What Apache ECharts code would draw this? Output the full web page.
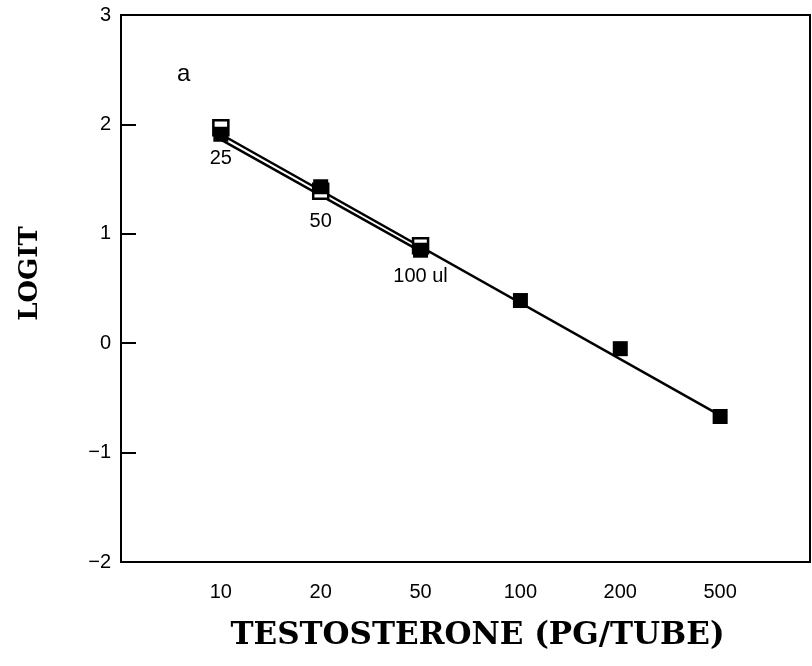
<!DOCTYPE html>
<html>
<head>
<meta charset="utf-8">
<script src="https://cdn.jsdelivr.net/npm/echarts@6/dist/echarts.min.js"></script>
<style>
html,body{margin:0;padding:0;background:#fff;}
#chart{width:812px;height:666px;}
</style>
</head>
<body>
<div id="chart"></div>
<script>
// Tick labels of the x axis (equally spaced positions 0..5)
const xLabels = ['10', '20', '50', '100', '200', '500'];
const xPositions = [0, 1, 2, 3, 4, 5];
// Standard curve (filled squares)
const standardLogit = [1.91, 1.43, 0.85, 0.39, -0.05, -0.67];
// Sample dilutions (open squares) at positions 0..2
const samplePositions = [0, 1, 2];
const sampleLogit = [1.97, 1.39, 0.89];
const sampleLabels = ['25', '50', '100 ul'];
// Fitted straight lines (endpoints)
const standardLineX = [0, 5];
const standardLineY = [1.91, -0.66];
const sampleLineX = [0, 2];
const sampleLineY = [1.86, 0.84];

const zip = (xs, ys) => xs.map((x, i) => [x, ys[i]]);

const chart = echarts.init(document.getElementById('chart'));
chart.setOption({
  backgroundColor: '#fff',
  animation: false,
  grid: {left: 121, right: 2, top: 15, bottom: 104, show: true, borderColor: '#000', borderWidth: 2, backgroundColor: 'transparent'},
  xAxis: {
    type: 'value', min: -1, max: 5.9,
    name: 'TESTOSTERONE (PG/TUBE)', nameLocation: 'middle', nameGap: 58,
    nameTextStyle: {fontFamily: 'DejaVu Serif', fontWeight: 'bold', fontSize: 31, color: '#000', padding: [0, 0, 0, 24]},
    axisLine: {show: true, onZero: false, lineStyle: {color: '#000', width: 2}},
    axisTick: {show: false},
    splitLine: {show: false},
    axisLabel: {
      customValues: xPositions,
      formatter: v => xLabels[Math.round(v)],
      margin: 20, fontFamily: 'Liberation Sans', fontSize: 20, color: '#000'
    }
  },
  yAxis: {
    type: 'value', min: -2, max: 3, interval: 1,
    name: 'LOGIT', nameLocation: 'middle', nameGap: 78, nameRotate: 90,
    nameTextStyle: {fontFamily: 'DejaVu Serif', fontWeight: 'bold', fontSize: 26, color: '#000', padding: [0, 0, 0, 30]},
    axisLine: {show: true, onZero: false, lineStyle: {color: '#000', width: 2}},
    axisTick: {show: true, inside: true, length: 15, lineStyle: {color: '#000', width: 2}},
    splitLine: {show: false},
    axisLabel: {
      formatter: v => String(v).replace('-', '\u2212'),
      margin: 10, fontFamily: 'Liberation Sans', fontSize: 20, color: '#000'
    }
  },
  graphic: [{
    type: 'text', left: 177, top: 62,
    style: {text: 'a', fontFamily: 'Liberation Sans', fontSize: 24, fill: '#000'}
  }],
  series: [
    {
      type: 'line', data: zip(standardLineX, standardLineY), symbol: 'none',
      lineStyle: {color: '#000', width: 2.5}, z: 2
    },
    {
      type: 'line', data: zip(sampleLineX, sampleLineY), symbol: 'none',
      lineStyle: {color: '#000', width: 2.5}, z: 2
    },
    {
      type: 'scatter', data: zip(samplePositions, sampleLogit), symbol: 'rect', symbolSize: 15,
      itemStyle: {color: '#fff', borderColor: '#000', borderWidth: 2.5, opacity: 1},
      label: {
        show: true, position: 'bottom', distance: 12,
        formatter: p => sampleLabels[p.dataIndex],
        fontFamily: 'Liberation Sans', fontSize: 20, color: '#000', opacity: 1
      },
      z: 3
    },
    {
      type: 'scatter', data: zip(xPositions, standardLogit), symbol: 'rect', symbolSize: 15,
      itemStyle: {color: '#000', opacity: 1}, z: 4
    }
  ]
});
</script>
</body>
</html>
